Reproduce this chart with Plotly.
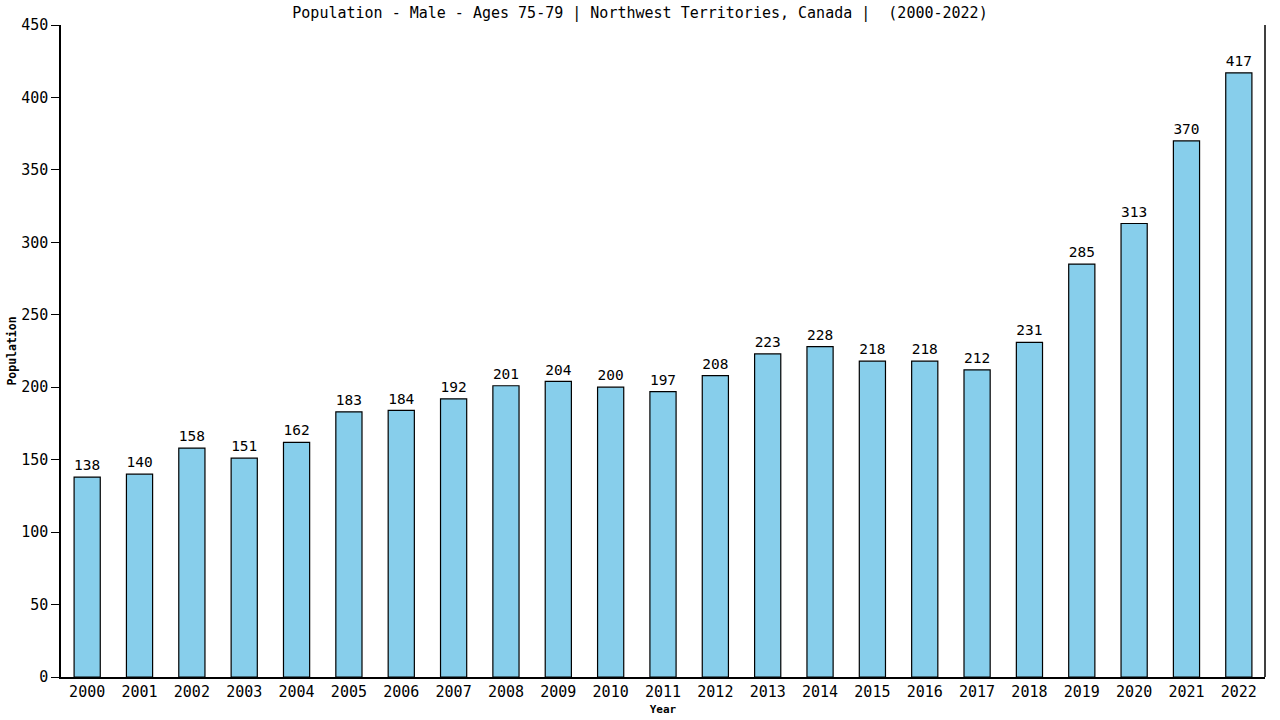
import plotly.graph_objects as go

## data
years = [str(y) for y in range(2000, 2023)]
population = [138, 140, 158, 151, 162, 183, 184, 192, 201, 204, 200, 197,
              208, 223, 228, 218, 218, 212, 231, 285, 313, 370, 417]
y_ticks = [0, 50, 100, 150, 200, 250, 300, 350, 400, 450]

chart_title = "Population - Male - Ages 75-79 | Northwest Territories, Canada |  (2000-2022)"
font_fam = "DejaVu Sans Mono, Liberation Mono, monospace"

fig = go.Figure()

fig.add_trace(go.Bar(
    x=years,
    y=population,
    width=0.5,
    marker=dict(color='#87CEEB', line=dict(color='black', width=1.2)),
    text=[str(v) for v in population],
    textposition='outside',
    textfont=dict(family=font_fam, size=15, color='black'),
    cliponaxis=False,
    showlegend=False,
))

fig.update_layout(
    width=1280, height=720,
    paper_bgcolor='white', plot_bgcolor='white',
    margin=dict(l=61, r=15, t=25, b=43),
    font=dict(family=font_fam, color='black'),
    title=dict(text=chart_title, x=0.5, xanchor='center', y=0.982, yanchor='middle',
               font=dict(family=font_fam, size=15, color='black')),
    bargap=0.5,
    xaxis=dict(
        automargin=False,
        showline=True, linecolor='black', linewidth=1.5,
        ticks='', showgrid=False,
        tickfont=dict(family=font_fam, size=15),
        title=dict(text='<b>Year</b>', font=dict(family=font_fam, size=11), standoff=6),
    ),
    yaxis=dict(
        automargin=False,
        range=[0, 450],
        tickvals=y_ticks,
        showline=True, linecolor='black', linewidth=1.5,
        ticks='outside', ticklen=8, tickcolor='black',
        showgrid=False, zeroline=False,
        tickfont=dict(family=font_fam, size=15),
        title=dict(text='<b>Population</b>', font=dict(family=font_fam, size=11.5), standoff=2),
    ),
    shapes=[dict(type='line', xref='paper', yref='paper', x0=1, x1=1, y0=0, y1=1,
                 line=dict(color='black', width=1.5))],
)

## drop the default page margin so the figure sits at the window corner
fig.write_html("out.html", config={'displayModeBar': False},
               post_script="document.body.style.margin='0';")
